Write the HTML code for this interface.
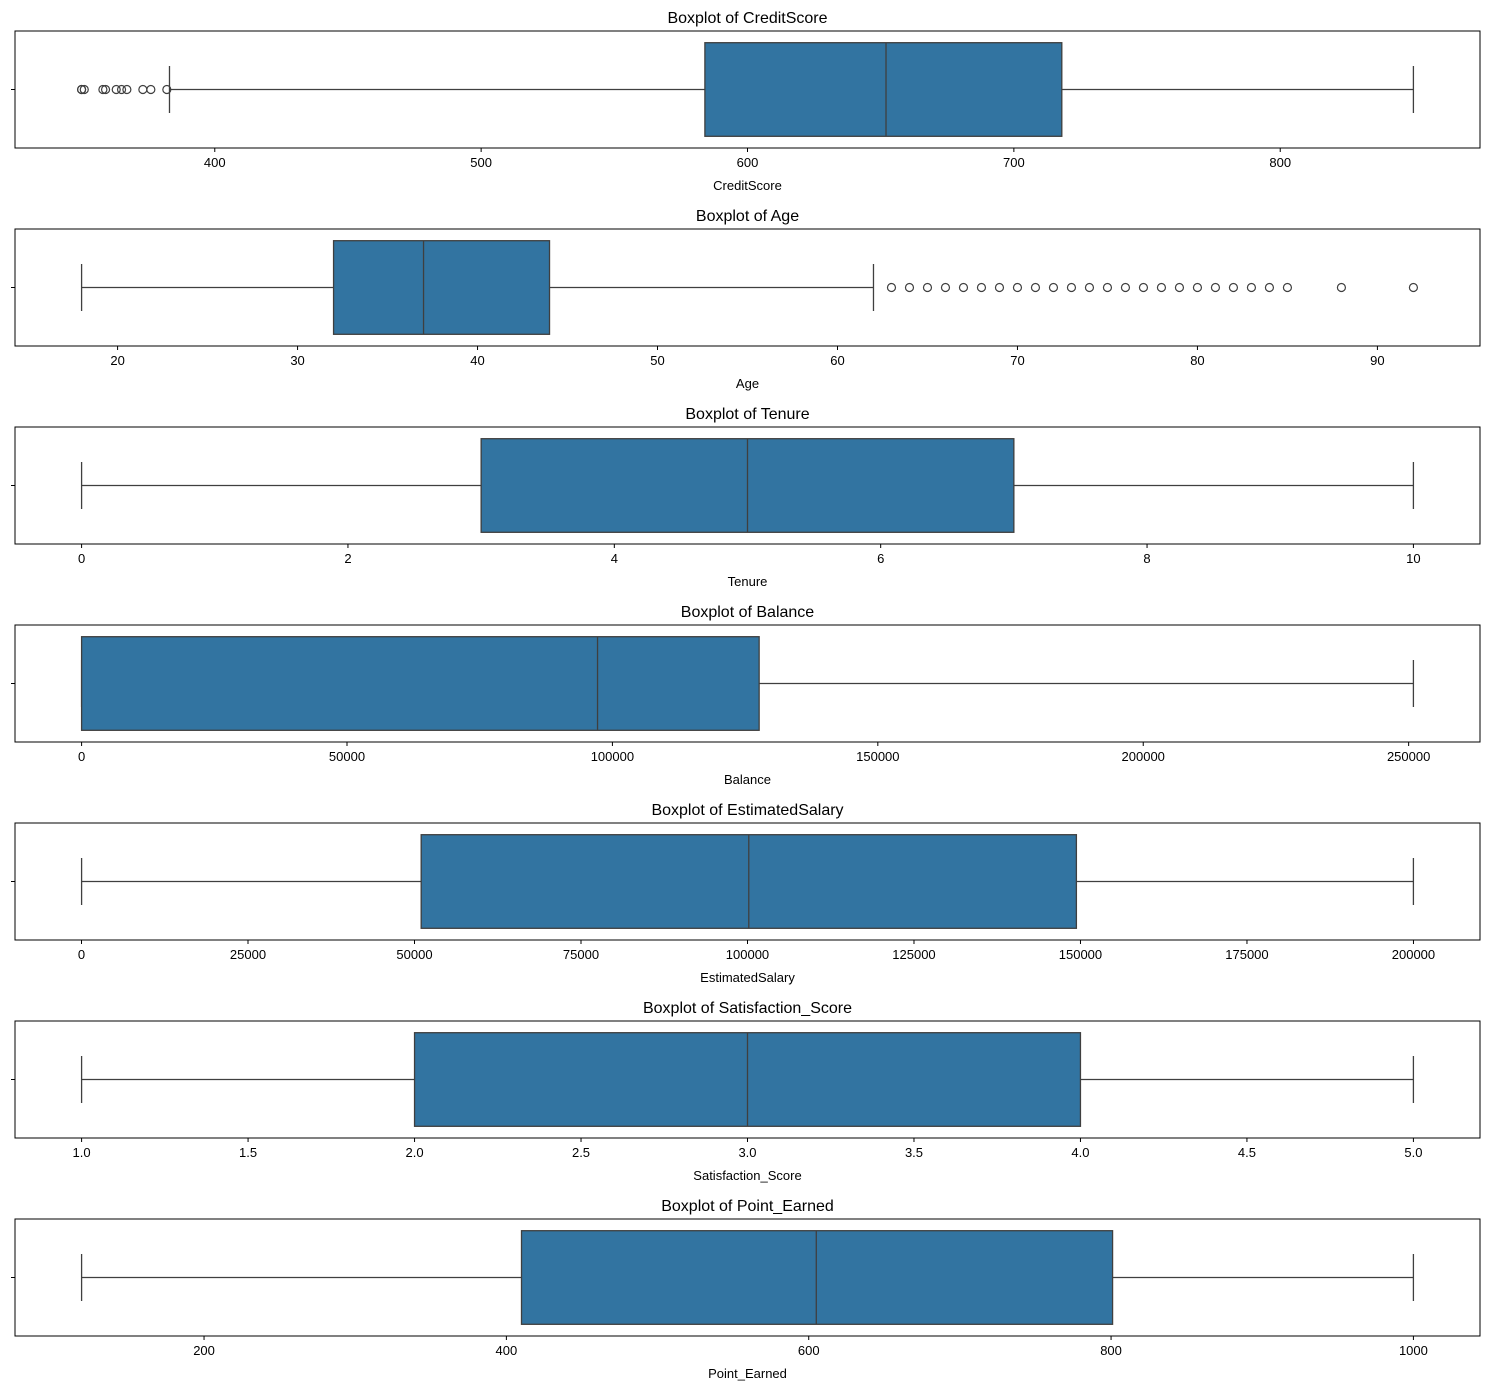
<!DOCTYPE html>
<html><head><meta charset="utf-8"><style>
body{margin:0;background:#fff;}
svg{display:block;font-family:"Liberation Sans",sans-serif;}
</style></head><body>
<svg id="chart" width="1490" height="1389" xmlns="http://www.w3.org/2000/svg"></svg>
<script>
const featureNames = ["CreditScore","Age","Tenure","Balance","EstimatedSalary","Satisfaction_Score","Point_Earned"];
const dataMins = [350,18,0,0,11.58,1,119];
const dataMaxs = [850,92,10,250898,199992,5,1000];
const whiskerLows = [383,18,0,0,11.58,1,119];
const q1s = [584,32,3,0,51002,2,410];
const medians = [652,37,5,97199,100194,3,605];
const q3s = [718,44,7,127644,149388,4,801];
const whiskerHighs = [850,62,10,250898,199992,5,1000];
const outliers = [
  [350,350,351,358,359,363,365,367,373,376,382],
  [63,64,65,66,67,68,69,70,71,72,73,74,75,76,77,78,79,80,81,82,83,84,85,88,92],
  [],[],[],[],[]
];
const tickValues = [
  [400,500,600,700,800],
  [20,30,40,50,60,70,80,90],
  [0,2,4,6,8,10],
  [0,50000,100000,150000,200000,250000],
  [0,25000,50000,75000,100000,125000,150000,175000,200000],
  [1,1.5,2,2.5,3,3.5,4,4.5,5],
  [200,400,600,800,1000]
];
const tickLabels = [
  ["400","500","600","700","800"],
  ["20","30","40","50","60","70","80","90"],
  ["0","2","4","6","8","10"],
  ["0","50000","100000","150000","200000","250000"],
  ["0","25000","50000","75000","100000","125000","150000","175000","200000"],
  ["1.0","1.5","2.0","2.5","3.0","3.5","4.0","4.5","5.0"],
  ["200","400","600","800","1000"]
];
const NS="http://www.w3.org/2000/svg";
const svg=document.getElementById('chart');
function mk(tag,attrs,parent){const e=document.createElementNS(NS,tag);for(const k in attrs)e.setAttribute(k,attrs[k]);(parent||svg).appendChild(e);return e;}
const L=15,R=1480,H=117,step=198,top0=31,line="#3f3f3f";
featureNames.forEach((name,i)=>{
  const top=top0+i*step, bot=top+H, cy=top+H/2;
  const range=dataMaxs[i]-dataMins[i];
  const lo=dataMins[i]-0.05*range, hi=dataMaxs[i]+0.05*range;
  const sx=v=>L+(v-lo)/(hi-lo)*(R-L);
  const g=mk('g',{});
  
  
  const t=mk('text',{x:(L+R)/2,y:top-8,'text-anchor':'middle','font-size':16,fill:'#000'},g);
  t.textContent='Boxplot of '+name;
  
  
  // whiskers
  const w1=mk('line',{x1:sx(whiskerLows[i]),x2:sx(q1s[i]),y1:cy,y2:cy,stroke:line,'stroke-width':1.3},g);
  
  
  const w2=mk('line',{x1:sx(q3s[i]),x2:sx(whiskerHighs[i]),y1:cy,y2:cy,stroke:line,'stroke-width':1.3},g);
  
  
  [whiskerLows[i],whiskerHighs[i]].forEach(v=>{
    const c=mk('line',{x1:sx(v),x2:sx(v),y1:cy-23.5,y2:cy+23.5,stroke:line,'stroke-width':1.3},g);
    
    
  });
  const b=mk('rect',{x:sx(q1s[i]),y:top+11.7,width:sx(q3s[i])-sx(q1s[i]),height:H*0.8,fill:'#3274a1',stroke:line,'stroke-width':1.3},g);
  
  
  const m=mk('line',{x1:sx(medians[i]),x2:sx(medians[i]),y1:top+11.7,y2:top+11.7+H*0.8,stroke:line,'stroke-width':1.3},g);
  
  
  outliers[i].forEach(v=>{
    const o=mk('circle',{cx:sx(v),cy:cy,r:4,fill:'none',stroke:line,'stroke-width':1.2},g);
    
    
  });
  const fr=mk('rect',{x:L,y:top,width:R-L,height:H,fill:'none',stroke:'#000','stroke-width':1},g);
  
  
  mk('line',{x1:L-4,x2:L,y1:cy,y2:cy,stroke:'#000','stroke-width':1},g);
  tickValues[i].forEach((v,j)=>{
    const x=sx(v);
    mk('line',{x1:x,x2:x,y1:bot,y2:bot+4,stroke:'#000','stroke-width':1},g);
    const tl=mk('text',{x:x,y:bot+19,'text-anchor':'middle','font-size':13,fill:'#000'},g);
    tl.textContent=tickLabels[i][j];
    
    
  });
  const xl=mk('text',{x:(L+R)/2,y:bot+42,'text-anchor':'middle','font-size':13,fill:'#000'},g);
  xl.textContent=name;
  
  
});
</script>
</body></html>
